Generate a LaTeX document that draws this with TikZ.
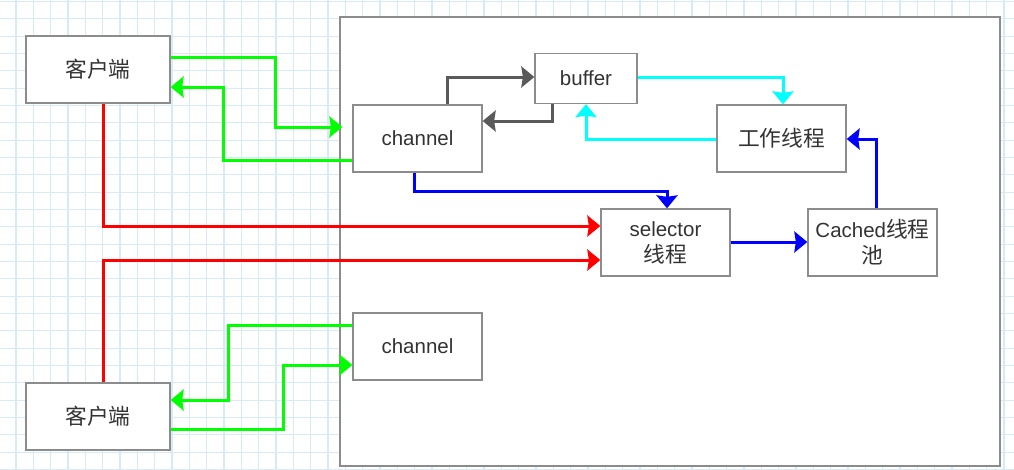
\documentclass[tikz,border=0pt]{standalone}
\usepackage{fontspec}
\setmainfont{Liberation Sans}
\newfontfamily\cjk{Noto Sans CJK SC}[Scale=1.06]
\usetikzlibrary{arrows.meta}
\definecolor{gridblue}{RGB}{214,234,248}
\definecolor{boxgray}{RGB}{140,140,140}
\definecolor{txtgray}{RGB}{51,51,51}
\definecolor{darkline}{RGB}{90,90,90}
\definecolor{green1}{RGB}{0,255,0}
\definecolor{red1}{RGB}{255,0,0}
\definecolor{blue1}{RGB}{0,0,255}
\definecolor{cyan1}{RGB}{0,255,255}

\begin{document}
\begin{tikzpicture}[x=1pt,y=-1pt,
	box/.style={rectangle,draw=boxgray,line width=1.3pt,fill=white,text=txtgray,
		font=\fontsize{20.5}{26}\selectfont,align=center,inner sep=0pt},
	link/.style={line width=3pt,-{Stealth[length=13pt,width=21pt,inset=1.5pt]}}]

			\useasboundingbox (0,0) rectangle (1014,469);
			\fill[white] (0,0) rectangle (1014,469);
			\foreach \i in {0,...,58} \draw[gridblue,line width=1.2pt] (16+17.333*\i,0) -- (16+17.333*\i,469);
			\foreach \i in {0,...,27} \draw[gridblue,line width=1.2pt] (0,1.5+17.333*\i) -- (1014,1.5+17.333*\i);

			\node[box,minimum width=660pt,minimum height=449pt] (srv) at (670,241.5) {};

			\node[box,minimum width=144pt,minimum height=67pt] (kh1) at (98,69.5) {\cjk 客户端};
			\node[box,minimum width=144pt,minimum height=67pt] (kh2) at (98,416.5) {\cjk 客户端};
			\node[box,minimum width=129pt,minimum height=67pt] (ch1) at (417.5,138.5) {channel};
			\node[box,minimum width=129pt,minimum height=67pt] (ch2) at (417.5,346.5) {channel};
			\node[box,minimum width=102pt,minimum height=50pt] (buf) at (586,78.5) {buffer};
			\node[box,minimum width=129pt,minimum height=67pt] (gz) at (781.5,138.5) {\cjk 工作线程};
			\node[box,minimum width=129pt,minimum height=67pt] (sel) at (665.5,242.5) {selector\\{\cjk 线程}};
			\node[box,minimum width=129pt,minimum height=67pt] (cached) at (872.5,242.5) {Cached{\cjk 线程}\\{\cjk 池}};

			\draw[link,green1,shorten >=10pt] (kh1.east |- 0,57) -| (275,127) -- (ch1.west |- 0,127);
			\draw[link,green1] (ch1.west |- 0,160) -| (223,87) -- (kh1.east |- 0,87);
			\draw[link,red1] (kh1.south -| 103,0) |- (sel.west |- 0,226);
			\draw[link,red1] (kh2.north -| 103,0) |- (sel.west |- 0,260);
			\draw[link,green1] (ch2.west |- 0,325) -| (228,400) -- (kh2.east |- 0,400);
			\draw[link,green1] (kh2.east |- 0,429) -| (283,365) -- (ch2.west |- 0,365);

			\draw[link,darkline] (ch1.north -| 447,0) |- (buf.west |- 0,77);
			\draw[link,darkline] (buf.south -| 552,0) |- (ch1.east |- 0,121);
			\draw[link,cyan1] (buf.east |- 0,77) -| (gz.north -| 783,0);
			\draw[link,cyan1] (gz.west |- 0,139) -| (buf.south -| 586,0);

			\draw[link,blue1] (ch1.south -| 414,0) |- (667,191) -- (sel.north -| 667,0);
			\draw[link,blue1] (sel.east |- 0,242) -- (cached.west |- 0,242);
			\draw[link,blue1] (cached.north -| 876,0) |- (gz.east |- 0,139);
		\end{tikzpicture}
\end{document}
